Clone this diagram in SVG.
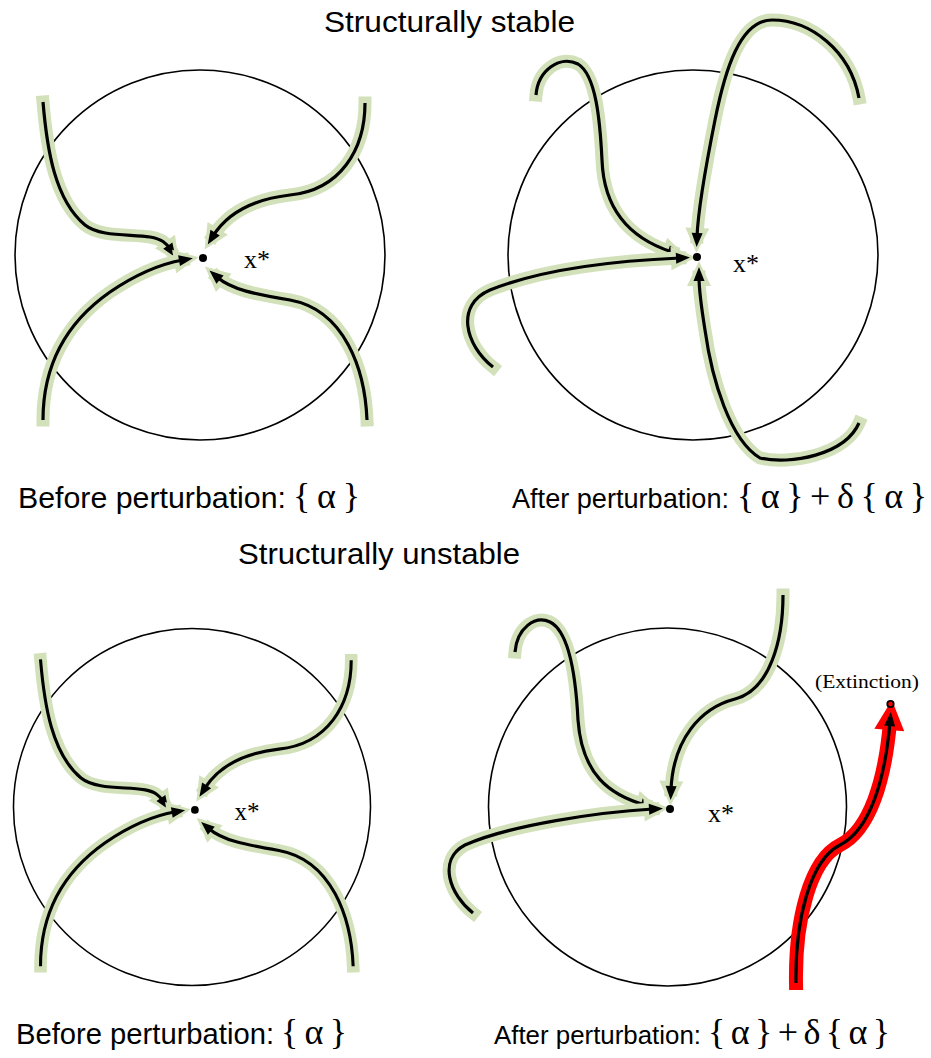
<svg xmlns="http://www.w3.org/2000/svg" width="931" height="1058" viewBox="0 0 931 1058">
<style>
.halo{fill:none;stroke:#d2e1ba;stroke-width:13;stroke-linecap:square}
.line{fill:none;stroke:#000;stroke-width:3.2}
.rhalo{fill:none;stroke:#f00;stroke-width:14;stroke-linecap:square}
.ring{fill:none;stroke:#000;stroke-width:1.6}
.sans{font-family:"Liberation Sans",Arial,sans-serif;fill:#000}
.ser{font-family:"Liberation Serif","Times New Roman",serif;fill:#000}
.hg{marker-end:url(#hg)}
.hb{marker-end:url(#hb)}
.hr{marker-end:url(#hr)}
</style>
<defs>
<marker id="hg" markerUnits="userSpaceOnUse" markerWidth="50" markerHeight="50" viewBox="-15 -25 50 50" refX="9" refY="0" orient="auto"><path d="M0,-12 L25,0 L0,12 z" fill="#d2e1ba"/></marker>
<marker id="hb" markerUnits="userSpaceOnUse" markerWidth="40" markerHeight="40" viewBox="-10 -20 40 40" refX="4" refY="0" orient="auto"><path d="M0,-5.5 L14,0 L0,5.5 z" fill="#000"/></marker>
<marker id="hr" markerUnits="userSpaceOnUse" markerWidth="60" markerHeight="60" viewBox="-15 -30 60 60" refX="8" refY="0" orient="auto"><path d="M0,-15 L30,0 L0,15 z" fill="#f00"/></marker>
</defs>
<rect width="931" height="1058" fill="#fff"/>

<text class="sans" x="324" y="32" font-size="30" textLength="251" lengthAdjust="spacingAndGlyphs">Structurally stable</text>
<text class="sans" x="238" y="564" font-size="30" textLength="282" lengthAdjust="spacingAndGlyphs">Structurally unstable</text>

<!-- Panel 1: stable, before -->
<g id="panel1">
<circle class="ring" cx="200" cy="255" r="185"/>
<g id="p1-connectors">
<path class="halo hg" d="M43,102 C47,150 55,200 85,225 C100,237 130,234 150,237 C162,239 166,243 170,249"/>
<path class="line hb" d="M43,102 C47,150 55,200 85,225 C100,237 130,234 150,237 C162,239 166,243 170,249"/>
<path class="halo hg" d="M43,420 C43,360 70,320 110,292 C135,275 160,264 183,260"/>
<path class="line hb" d="M43,420 C43,360 70,320 110,292 C135,275 160,264 183,260"/>
<path class="halo hg" d="M365,103 C365,150 340,190 290,195 C255,199 228,212 213,236"/>
<path class="line hb" d="M365,103 C365,150 340,190 290,195 C255,199 228,212 213,236"/>
<path class="halo hg" d="M367,420 C365,370 345,310 290,300 C255,294 232,290 217,277"/>
<path class="line hb" d="M367,420 C365,370 345,310 290,300 C255,294 232,290 217,277"/>
</g>
<g id="p1-xstar"><circle cx="203" cy="258" r="4" fill="#000"/><text class="ser" x="244" y="268" font-size="26">x*</text></g>
</g>

<!-- Panel 2: stable, after -->
<g id="panel2">
<circle class="ring" cx="693" cy="255" r="185"/>
<g id="p2-connectors">
<path class="halo hg" d="M536,95 C538,70 560,55 578,64 C596,75 600,120 602,160 C604,215 635,240 672,252"/>
<path class="line hb" d="M536,95 C538,70 560,55 578,64 C596,75 600,120 602,160 C604,215 635,240 672,252"/>
<path class="halo hg" d="M493,367 C465,345 455,305 490,290 C540,270 610,261 680,258"/>
<path class="line hb" d="M493,367 C465,345 455,305 490,290 C540,270 610,261 680,258"/>
<path class="halo hg" d="M859,98 C850,50 810,20 772,20 C740,20 725,70 715,120 C705,170 698,210 697,237"/>
<path class="line hb" d="M859,98 C850,50 810,20 772,20 C740,20 725,70 715,120 C705,170 698,210 697,237"/>
<path class="halo hg" d="M859,423 C845,455 790,465 760,458 C730,440 712,380 705,330 C701,305 699,290 699,277"/>
<path class="line hb" d="M859,423 C845,455 790,465 760,458 C730,440 712,380 705,330 C701,305 699,290 699,277"/>
</g>
<g id="p2-xstar"><circle cx="697" cy="257" r="4" fill="#000"/><text class="ser" x="733" y="272" font-size="26">x*</text></g>
</g>

<!-- Panel 3: unstable, before -->
<g id="panel3" transform="translate(192,807) scale(0.965) translate(-200,-255)">
<circle class="ring" cx="200" cy="255" r="185"/>
<g id="p3-connectors">
<path class="halo hg" d="M43,102 C47,150 55,200 85,225 C100,237 130,234 150,237 C162,239 166,243 170,249"/>
<path class="line hb" d="M43,102 C47,150 55,200 85,225 C100,237 130,234 150,237 C162,239 166,243 170,249"/>
<path class="halo hg" d="M43,420 C43,360 70,320 110,292 C135,275 160,264 183,260"/>
<path class="line hb" d="M43,420 C43,360 70,320 110,292 C135,275 160,264 183,260"/>
<path class="halo hg" d="M365,103 C365,150 340,190 290,195 C255,199 228,212 213,236"/>
<path class="line hb" d="M365,103 C365,150 340,190 290,195 C255,199 228,212 213,236"/>
<path class="halo hg" d="M367,420 C365,370 345,310 290,300 C255,294 232,290 217,277"/>
<path class="line hb" d="M367,420 C365,370 345,310 290,300 C255,294 232,290 217,277"/>
</g>
<g id="p3-xstar"><circle cx="203" cy="258" r="4" fill="#000"/><text class="ser" x="244" y="268" font-size="26">x*</text></g>
</g>

<!-- Panel 4: unstable, after -->
<g id="panel4">
<circle class="ring" cx="667.5" cy="807" r="179"/>
<g id="p4-connectors">
<path class="halo hg" d="M515,652 C517,628 535,615 550,622 C570,632 576,680 578,720 C582,775 610,795 645,805"/>
<path class="line hb" d="M515,652 C517,628 535,615 550,622 C570,632 576,680 578,720 C582,775 610,795 645,805"/>
<path class="halo hg" d="M473,913 C450,895 437,860 465,845 C510,825 600,812 653,809"/>
<path class="line hb" d="M473,913 C450,895 437,860 465,845 C510,825 600,812 653,809"/>
<path class="halo hg" d="M783,595 C783,640 770,690 735,699 C700,708 673,740 671,790"/>
<path class="line hb" d="M783,595 C783,640 770,690 735,699 C700,708 673,740 671,790"/>
<path class="rhalo hr" d="M796,983 C795,920 810,860 840,845 C870,830 885,780 890,722"/>
<path class="line hb" d="M796,983 C795,920 810,860 840,845 C870,830 885,780 890,722"/>
</g>
<g id="p4-xstar"><circle cx="670" cy="809" r="4" fill="#000"/><text class="ser" x="708" y="822" font-size="26">x*</text></g>
<g id="p4-extinction"><circle cx="890.5" cy="704" r="3.2" fill="#f00" stroke="#000" stroke-width="1.8"/><text class="ser" x="815" y="688" font-size="18" textLength="104" lengthAdjust="spacingAndGlyphs">(Extinction)</text></g>
</g>

<!-- Labels -->
<text id="lbl1" y="508"><tspan class="sans" font-size="30" x="18" textLength="268" lengthAdjust="spacingAndGlyphs">Before perturbation:</tspan><tspan class="ser" font-size="36" x="293" textLength="67" lengthAdjust="spacing">{α}</tspan></text>
<text id="lbl2" y="508"><tspan class="sans" font-size="27.5" x="512" textLength="217" lengthAdjust="spacingAndGlyphs">After perturbation:</tspan><tspan class="ser" font-size="36" x="737" textLength="190" lengthAdjust="spacing">{α}+δ{α}</tspan></text>
<text id="lbl3" y="1044"><tspan class="sans" font-size="29" x="16" textLength="258" lengthAdjust="spacingAndGlyphs">Before perturbation:</tspan><tspan class="ser" font-size="36" x="281" textLength="66" lengthAdjust="spacing">{α}</tspan></text>
<text id="lbl4" y="1044"><tspan class="sans" font-size="26.5" x="494" textLength="207" lengthAdjust="spacingAndGlyphs">After perturbation:</tspan><tspan class="ser" font-size="36" x="708" textLength="182" lengthAdjust="spacing">{α}+δ{α}</tspan></text>
</svg>
